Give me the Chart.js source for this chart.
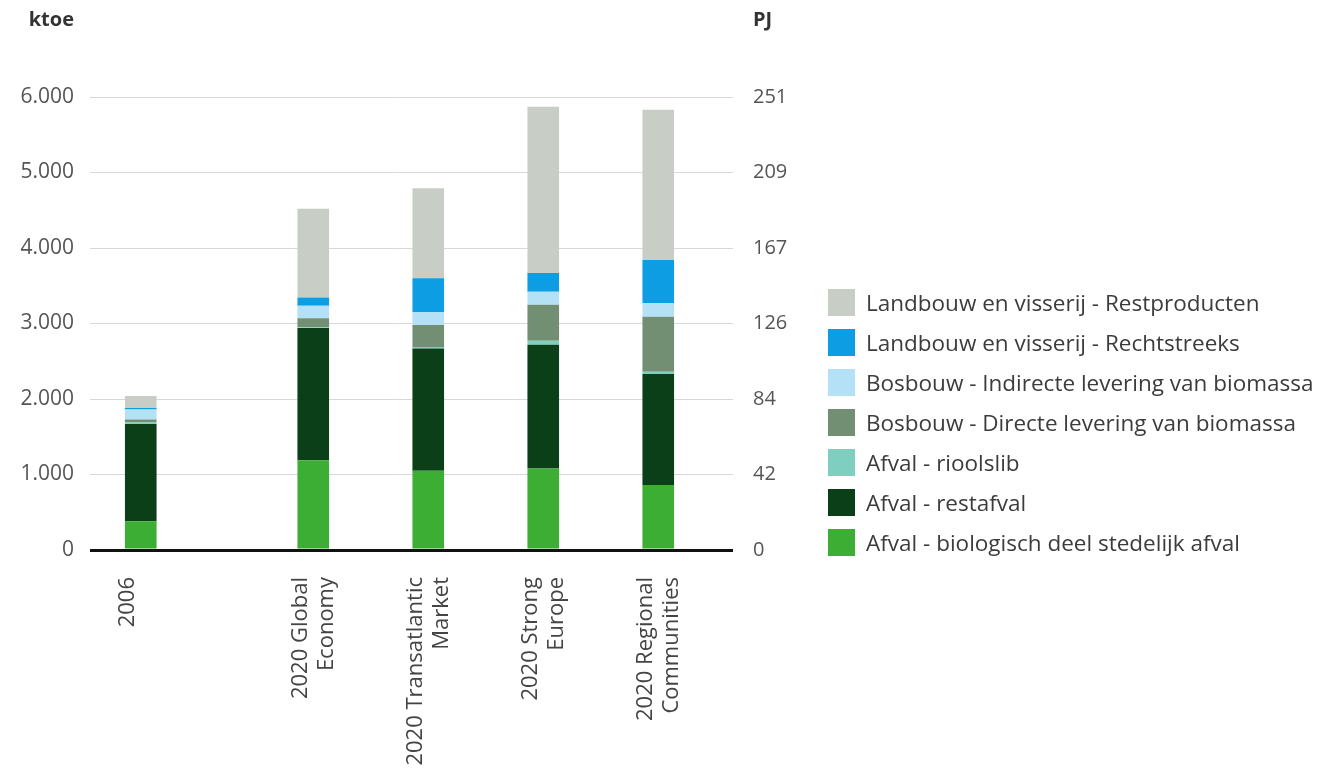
<!DOCTYPE html>
<html>
<head>
<meta charset="utf-8">
<script src="https://cdn.jsdelivr.net/npm/chart.js@4.4.1/dist/chart.umd.min.js"></script>
<style>
  html, body { margin: 0; padding: 0; background: #fff; }
  #wrap { position: relative; width: 1344px; height: 776px; }
  #legend { position: absolute; left: 828px; top: 282px; font-family: 'Open Sans', sans-serif; font-size: 22.5px; color: #3c3c3c; }
  #legend .item { display: flex; align-items: center; height: 40px; white-space: nowrap; }
  #legend .box { width: 27px; height: 27px; margin-right: 11px; flex: none; }
</style>
</head>
<body>
<div id="wrap">
  <canvas id="grafiek" width="1344" height="776"></canvas>
  <div id="legend"></div>
</div>
<script>
// categorieen (2006 + vier scenario's voor 2020)
const categories = [
  '2006',
  ['2020 Global', 'Economy'],
  ['2020 Transatlantic', 'Market'],
  ['2020 Strong', 'Europe'],
  ['2020 Regional', 'Communities']
];

// waarden in ktoe, van onder naar boven gestapeld
const biologischAfval = [380, 1190, 1050, 1080, 860];
const restafval       = [1290, 1750, 1620, 1640, 1470];
const rioolslib       = [20, 10, 20, 50, 30];
const bosDirect       = [40, 120, 290, 480, 730];
const bosIndirect     = [130, 165, 170, 170, 180];
const landRecht       = [20, 110, 450, 250, 570];
const landRest        = [160, 1175, 1190, 2200, 1990];

// as-labels
const ktoeTicks  = [0, 1000, 2000, 3000, 4000, 5000, 6000];
const ktoeLabels = ['0', '1.000', '2.000', '3.000', '4.000', '5.000', '6.000'];
const pjLabels   = ['0', '42', '84', '126', '167', '209', '251'];

// plaats van de staven op de x-as (lege vakken als tussenruimte)
const nSlots = 10;
const slots = [0, 3, 5, 7, 9];
function spread(arr, empty) {
  const out = new Array(nSlots).fill(empty);
  slots.forEach((s, i) => { out[s] = arr[i]; });
  return out;
}

const series = [
  { label: 'Afval - biologisch deel stedelijk afval', data: biologischAfval, color: '#3cae34' },
  { label: 'Afval - restafval', data: restafval, color: '#0a3f17' },
  { label: 'Afval - rioolslib', data: rioolslib, color: '#7fcfc1' },
  { label: 'Bosbouw - Directe levering van biomassa', data: bosDirect, color: '#728f74' },
  { label: 'Bosbouw - Indirecte levering van biomassa', data: bosIndirect, color: '#b4e1f6' },
  { label: 'Landbouw en visserij - Rechtstreeks', data: landRecht, color: '#0c9de3' },
  { label: 'Landbouw en visserij - Restproducten', data: landRest, color: '#c8cec5' }
];

Chart.defaults.font.family = "'Open Sans', sans-serif";
Chart.defaults.color = '#4a4a4a';

const gridColor = ctx => (ctx.tick && ctx.tick.value === 0) ? '#111' : '#d8d8d8';
const gridWidth = ctx => (ctx.tick && ctx.tick.value === 0) ? 3 : 1;

// titels boven de assen
const asTitels = {
  id: 'asTitels',
  afterDraw(chart) {
    const { ctx, scales } = chart;
    ctx.save();
    ctx.font = "bold 20px 'Open Sans', sans-serif";
    ctx.fillStyle = '#333';
    ctx.textBaseline = 'middle';
    ctx.textAlign = 'right';
    ctx.fillText('ktoe', scales.y.right - 38, 20);
    ctx.textAlign = 'left';
    ctx.fillText('PJ', scales.y1.left + 66, 20);
    ctx.restore();
  }
};

const chart = new Chart(document.getElementById('grafiek'), {
  type: 'bar',
  data: {
    labels: spread(categories, ''),
    datasets: series.map(s => ({
      label: s.label,
      data: spread(s.data, null),
      backgroundColor: s.color,
      borderWidth: 0,
      barPercentage: 1,
      categoryPercentage: 0.55
    }))
  },
  options: {
    responsive: false,
    animation: false,
    layout: { padding: { top: 97, right: 529, bottom: 0, left: 0 } },
    plugins: {
      legend: { display: false },
      tooltip: { enabled: false }
    },
    scales: {
      x: {
        stacked: true,
        grid: { display: false, drawTicks: false },
        border: { display: false },
        ticks: {
          autoSkip: false, maxRotation: 90, minRotation: 90,
          padding: 27, labelOffset: -13,
          font: { size: 22 }, color: '#444'
        },
        afterFit: s => { s.height = 226; }
      },
      y: {
        stacked: true,
        position: 'left',
        min: 0, max: 6000,
        ticks: {
          stepSize: 1000, padding: 16,
          font: { size: 21 }, color: '#555',
          callback: v => ktoeLabels[ktoeTicks.indexOf(v)]
        },
        grid: { color: gridColor, lineWidth: gridWidth, tickLength: 22 },
        border: { display: false },
        afterFit: s => { s.width = 112; }
      },
      y1: {
        position: 'right',
        min: 0, max: 6000,
        ticks: {
          stepSize: 1000, padding: 20,
          font: { size: 20 }, color: '#555',
          callback: v => pjLabels[ktoeTicks.indexOf(v)]
        },
        grid: { drawOnChartArea: false, color: gridColor, lineWidth: gridWidth, tickLength: 46 },
        border: { display: false },
        afterFit: s => { s.width = 128; }
      }
    }
  },
  plugins: [asTitels]
});

// legenda (bovenste laag eerst)
const legend = document.getElementById('legend');
chart.data.datasets.slice().reverse().forEach(ds => {
  const item = document.createElement('div');
  item.className = 'item';
  const box = document.createElement('span');
  box.className = 'box';
  box.style.background = ds.backgroundColor;
  const txt = document.createElement('span');
  txt.textContent = ds.label;
  item.appendChild(box);
  item.appendChild(txt);
  legend.appendChild(item);
});
</script>
</body>
</html>
